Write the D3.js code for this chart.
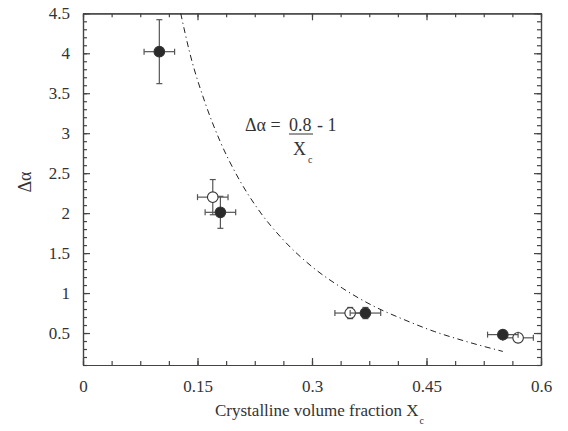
<!DOCTYPE html>
<html>
<head>
<meta charset="utf-8">
<script src="https://cdn.jsdelivr.net/npm/d3@7"></script>
<style>
  body { margin: 0; background: #fff; }
</style>
</head>
<body>
<svg id="chart" width="568" height="431"></svg>
<script>
// data
var filledX = [0.10, 0.18, 0.37, 0.55];
var filledY = [4.02, 2.01, 0.75, 0.48];
var filledXErr = [0.02, 0.02, 0.02, 0.02];
var filledYErr = [0.40, 0.20, 0.07, 0.05];

var openX = [0.17, 0.35, 0.57];
var openY = [2.20, 0.75, 0.44];
var openXErr = [0.02, 0.02, 0.02];
var openYErr = [0.22, 0.07, 0.05];

// dash-dot guide curve
var curveX = [0.128, 0.14, 0.16, 0.18, 0.2, 0.23, 0.26, 0.3, 0.34, 0.38, 0.42, 0.46, 0.5, 0.55];
var curveY = [4.50, 4.00, 3.38, 2.89, 2.50, 2.04, 1.69, 1.33, 1.06, 0.84, 0.67, 0.52, 0.40, 0.27];

var xMajor = [0, 0.15, 0.3, 0.45, 0.6];
var xMinor = d3.range(0, 17).map(i => i * 0.0375);
var yMajor = [0.5, 1, 1.5, 2, 2.5, 3, 3.5, 4, 4.5];
var yMinor = d3.range(1, 46).map(i => i / 10);

var svgWidth = 568;
var svgHeight = 431;
var serif = "Liberation Serif";

var margin = { top: 13.3, right: 27, bottom: 66, left: 83 };
var width = svgWidth - margin.left - margin.right;
var height = svgHeight - margin.top - margin.bottom;

var svg = d3.select("#chart")
  .attr("font-family", serif);

var chartGroup = svg.append("g")
  .attr("transform", `translate(${margin.left}, ${margin.top})`);

var xScale = d3.scaleLinear().domain([0, 0.6]).range([0, width]);
var yScale = d3.scaleLinear().domain([0.1, 4.5]).range([height, 0]);

var axisColor = "#444";

// axes: minor ticks first, then major ticks with labels
function drawAxis(axisFn, scale, transform, minor, major, labels) {
  var gMinor = chartGroup.append("g")
    .attr("transform", transform)
    .call(axisFn(scale).tickValues(minor).tickSize(-4).tickSizeOuter(0).tickFormat(""));
  var gMajor = chartGroup.append("g")
    .attr("transform", transform)
    .call(axisFn(scale).tickValues(major).tickSize(-7).tickSizeOuter(0)
      .tickPadding(12).tickFormat(labels ? d3.format("") : ""));
  [gMinor, gMajor].forEach(function(g) {
    g.attr("font-family", serif).attr("font-size", 17);
    g.selectAll("path, line").attr("stroke", axisColor).attr("stroke-width", 1.2);
    g.selectAll("text").attr("fill", "#333");
  });
  return gMajor;
}

var xBottom = drawAxis(d3.axisBottom, xScale, `translate(0, ${height})`, xMinor, xMajor, true);
drawAxis(d3.axisTop, xScale, "translate(0, 0)", xMinor, xMajor, false);
var yLeft = drawAxis(d3.axisLeft, yScale, "translate(0, 0)", yMinor, yMajor, true);
drawAxis(d3.axisRight, yScale, `translate(${width}, 0)`, yMinor, yMajor, false);

xBottom.selectAll("text").attr("dy", "0.9em");
yLeft.selectAll("text").attr("dx", "-1px");

// guide curve
var line = d3.line()
  .x(d => xScale(d[0]))
  .y(d => yScale(d[1]))
  .curve(d3.curveMonotoneX);

chartGroup.append("path")
  .datum(d3.zip(curveX, curveY))
  .attr("d", line)
  .attr("fill", "none")
  .attr("stroke", "#222")
  .attr("stroke-width", 1)
  .attr("stroke-dasharray", "6,3.5,1.2,3.5");

// error bars and markers
function drawPoints(xs, ys, xe, ye, filled) {
  var data = xs.map((x, i) => ({ x: x, y: ys[i], xe: xe[i], ye: ye[i] }));
  var g = chartGroup.append("g");
  var cap = 3;
  var bars = g.selectAll(".err").data(data).enter().append("g")
    .attr("stroke", "#555").attr("stroke-width", 1.2);
  bars.append("line")
    .attr("x1", d => xScale(d.x - d.xe)).attr("x2", d => xScale(d.x + d.xe))
    .attr("y1", d => yScale(d.y)).attr("y2", d => yScale(d.y));
  bars.append("line")
    .attr("x1", d => xScale(d.x)).attr("x2", d => xScale(d.x))
    .attr("y1", d => yScale(d.y - d.ye)).attr("y2", d => yScale(d.y + d.ye));
  [-1, 1].forEach(function(s) {
    bars.append("line")
      .attr("x1", d => xScale(d.x + s * d.xe)).attr("x2", d => xScale(d.x + s * d.xe))
      .attr("y1", d => yScale(d.y) - cap).attr("y2", d => yScale(d.y) + cap);
    bars.append("line")
      .attr("x1", d => xScale(d.x) - cap).attr("x2", d => xScale(d.x) + cap)
      .attr("y1", d => yScale(d.y + s * d.ye)).attr("y2", d => yScale(d.y + s * d.ye));
  });
  g.selectAll("circle").data(data).enter().append("circle")
    .attr("cx", d => xScale(d.x))
    .attr("cy", d => yScale(d.y))
    .attr("r", 5.3)
    .attr("fill", filled ? "#2a2a2a" : "#fff")
    .attr("stroke", "#333")
    .attr("stroke-width", 1.1);
}

drawPoints(openX, openY, openXErr, openYErr, false);
drawPoints(filledX, filledY, filledXErr, filledYErr, true);

// text helper
function addText(x, y, size, str) {
  return svg.append("text")
    .attr("x", x).attr("y", y)
    .attr("fill", "#333")
    .attr("font-family", serif)
    .attr("font-size", size)
    .text(str);
}

// axis titles
var xTitle = addText(215, 416, 17, null);
xTitle.append("tspan").text("Crystalline volume fraction X");
xTitle.append("tspan").attr("dy", 8).attr("dx", 1).attr("font-size", 10).text("c");

svg.append("text")
  .attr("transform", "translate(31, 182) rotate(-90)")
  .attr("text-anchor", "middle")
  .attr("fill", "#333")
  .attr("font-family", serif)
  .attr("font-size", 18)
  .text("Δα");

// formula annotation
addText(245, 131, 18, "Δα =");
addText(289, 131, 18, "0.8");
svg.append("line")
  .attr("x1", 289).attr("x2", 313)
  .attr("y1", 134).attr("y2", 134)
  .attr("stroke", "#333").attr("stroke-width", 1);
addText(317, 131, 18, "- 1");
var denom = addText(293, 155, 18, null);
denom.append("tspan").text("X");
denom.append("tspan").attr("dy", 8).attr("dx", 2).attr("font-size", 10).text("c");
</script>
</body>
</html>
